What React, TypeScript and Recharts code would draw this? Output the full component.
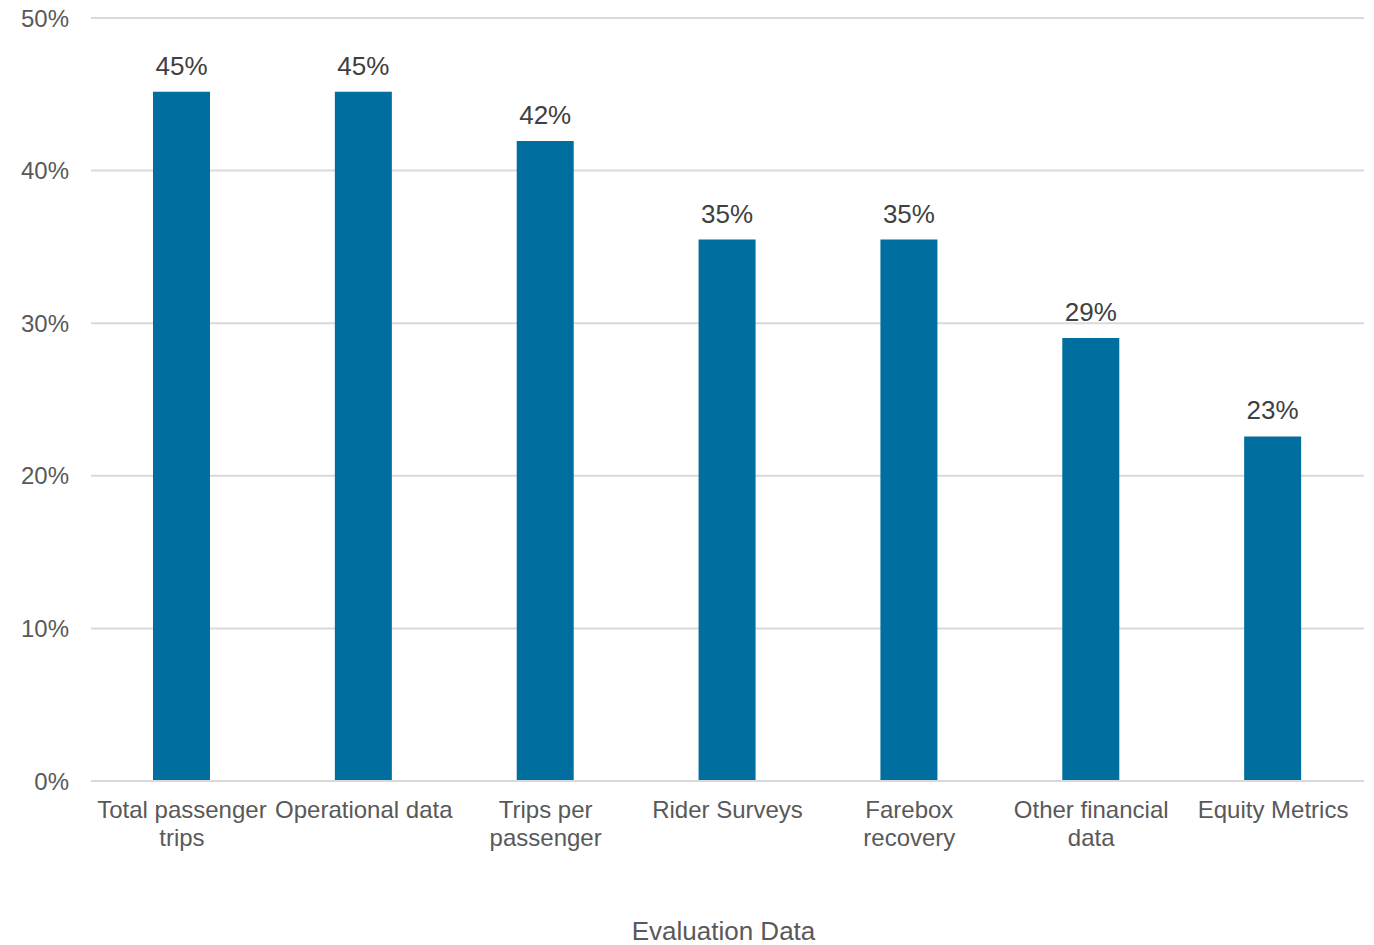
import { Bar, BarChart, CartesianGrid, LabelList, XAxis, YAxis } from "recharts";

const categories = [
  "Total passenger trips",
  "Operational data",
  "Trips per passenger",
  "Rider Surveys",
  "Farebox recovery",
  "Other financial data",
  "Equity Metrics",
];

// share of responding agencies
const shares = [0.4516, 0.4516, 0.4194, 0.3548, 0.3548, 0.2903, 0.2258];

const yTicks = [0, 0.1, 0.2, 0.3, 0.4, 0.5];

const data = categories.map((name, i) => ({ name, share: shares[i] }));

const FONT = "Arial, 'Liberation Sans', sans-serif";
const pct = (v: number) => `${Math.round(v * 100)}%`;

// greedy word wrap measured on a canvas
const ctx = document.createElement("canvas").getContext("2d")!;
function wrap(label: string, maxWidth: number, font: string) {
  ctx.font = font;
  const lines: string[] = [];
  let line = "";
  for (const word of label.split(" ")) {
    const next = line ? `${line} ${word}` : word;
    if (line && ctx.measureText(next).width > maxWidth) {
      lines.push(line);
      line = word;
    } else {
      line = next;
    }
  }
  if (line) lines.push(line);
  return lines;
}

function CategoryTick(props: any) {
  const { x, y, payload } = props;
  const lines = wrap(String(payload.value), 180, `24px ${FONT}`);
  return (
    <text
      x={x}
      y={y}
      textAnchor="middle"
      fill="#595959"
      fontSize={24}
      fontFamily={FONT}
    >
      {lines.map((l, i) => (
        <tspan key={i} x={x} dy={i === 0 ? 17 : 28}>
          {l}
        </tspan>
      ))}
    </text>
  );
}

export default function App() {
  return (
    <div style={{ position: "absolute", left: 0, top: 0, fontFamily: FONT }}>
      <BarChart
        width={1374}
        height={945}
        data={data}
        margin={{ top: 18, right: 10, left: 0, bottom: 0 }}
      >
        <CartesianGrid vertical={false} stroke="#d9d9d9" strokeWidth={2} />
        <XAxis
          dataKey="name"
          height={164}
          axisLine={{ stroke: "#d9d9d9", strokeWidth: 2 }}
          tickLine={false}
          tickSize={0}
          tickMargin={20}
          interval={0}
          tick={<CategoryTick />}
          label={{
            value: "Evaluation Data",
            position: "insideBottom",
            offset: 5,
            dx: -4,
            fill: "#595959",
            fontSize: 26,
            fontFamily: FONT,
          }}
        />
        <YAxis
          width={91}
          domain={[0, 0.5]}
          ticks={yTicks}
          tickFormatter={pct}
          axisLine={false}
          tickLine={false}
          tickSize={0}
          tickMargin={22}
          tick={{ fill: "#595959", fontSize: 24, fontFamily: FONT }}
        />
        <Bar dataKey="share" fill="#006E9E" barSize={57} isAnimationActive={false}>
          <LabelList
            dataKey="share"
            position="top"
            offset={17}
            formatter={(v: any) => pct(Number(v))}
            fill="#404040"
            fontSize={26}
            fontFamily={FONT}
          />
        </Bar>
      </BarChart>
    </div>
  );
}
